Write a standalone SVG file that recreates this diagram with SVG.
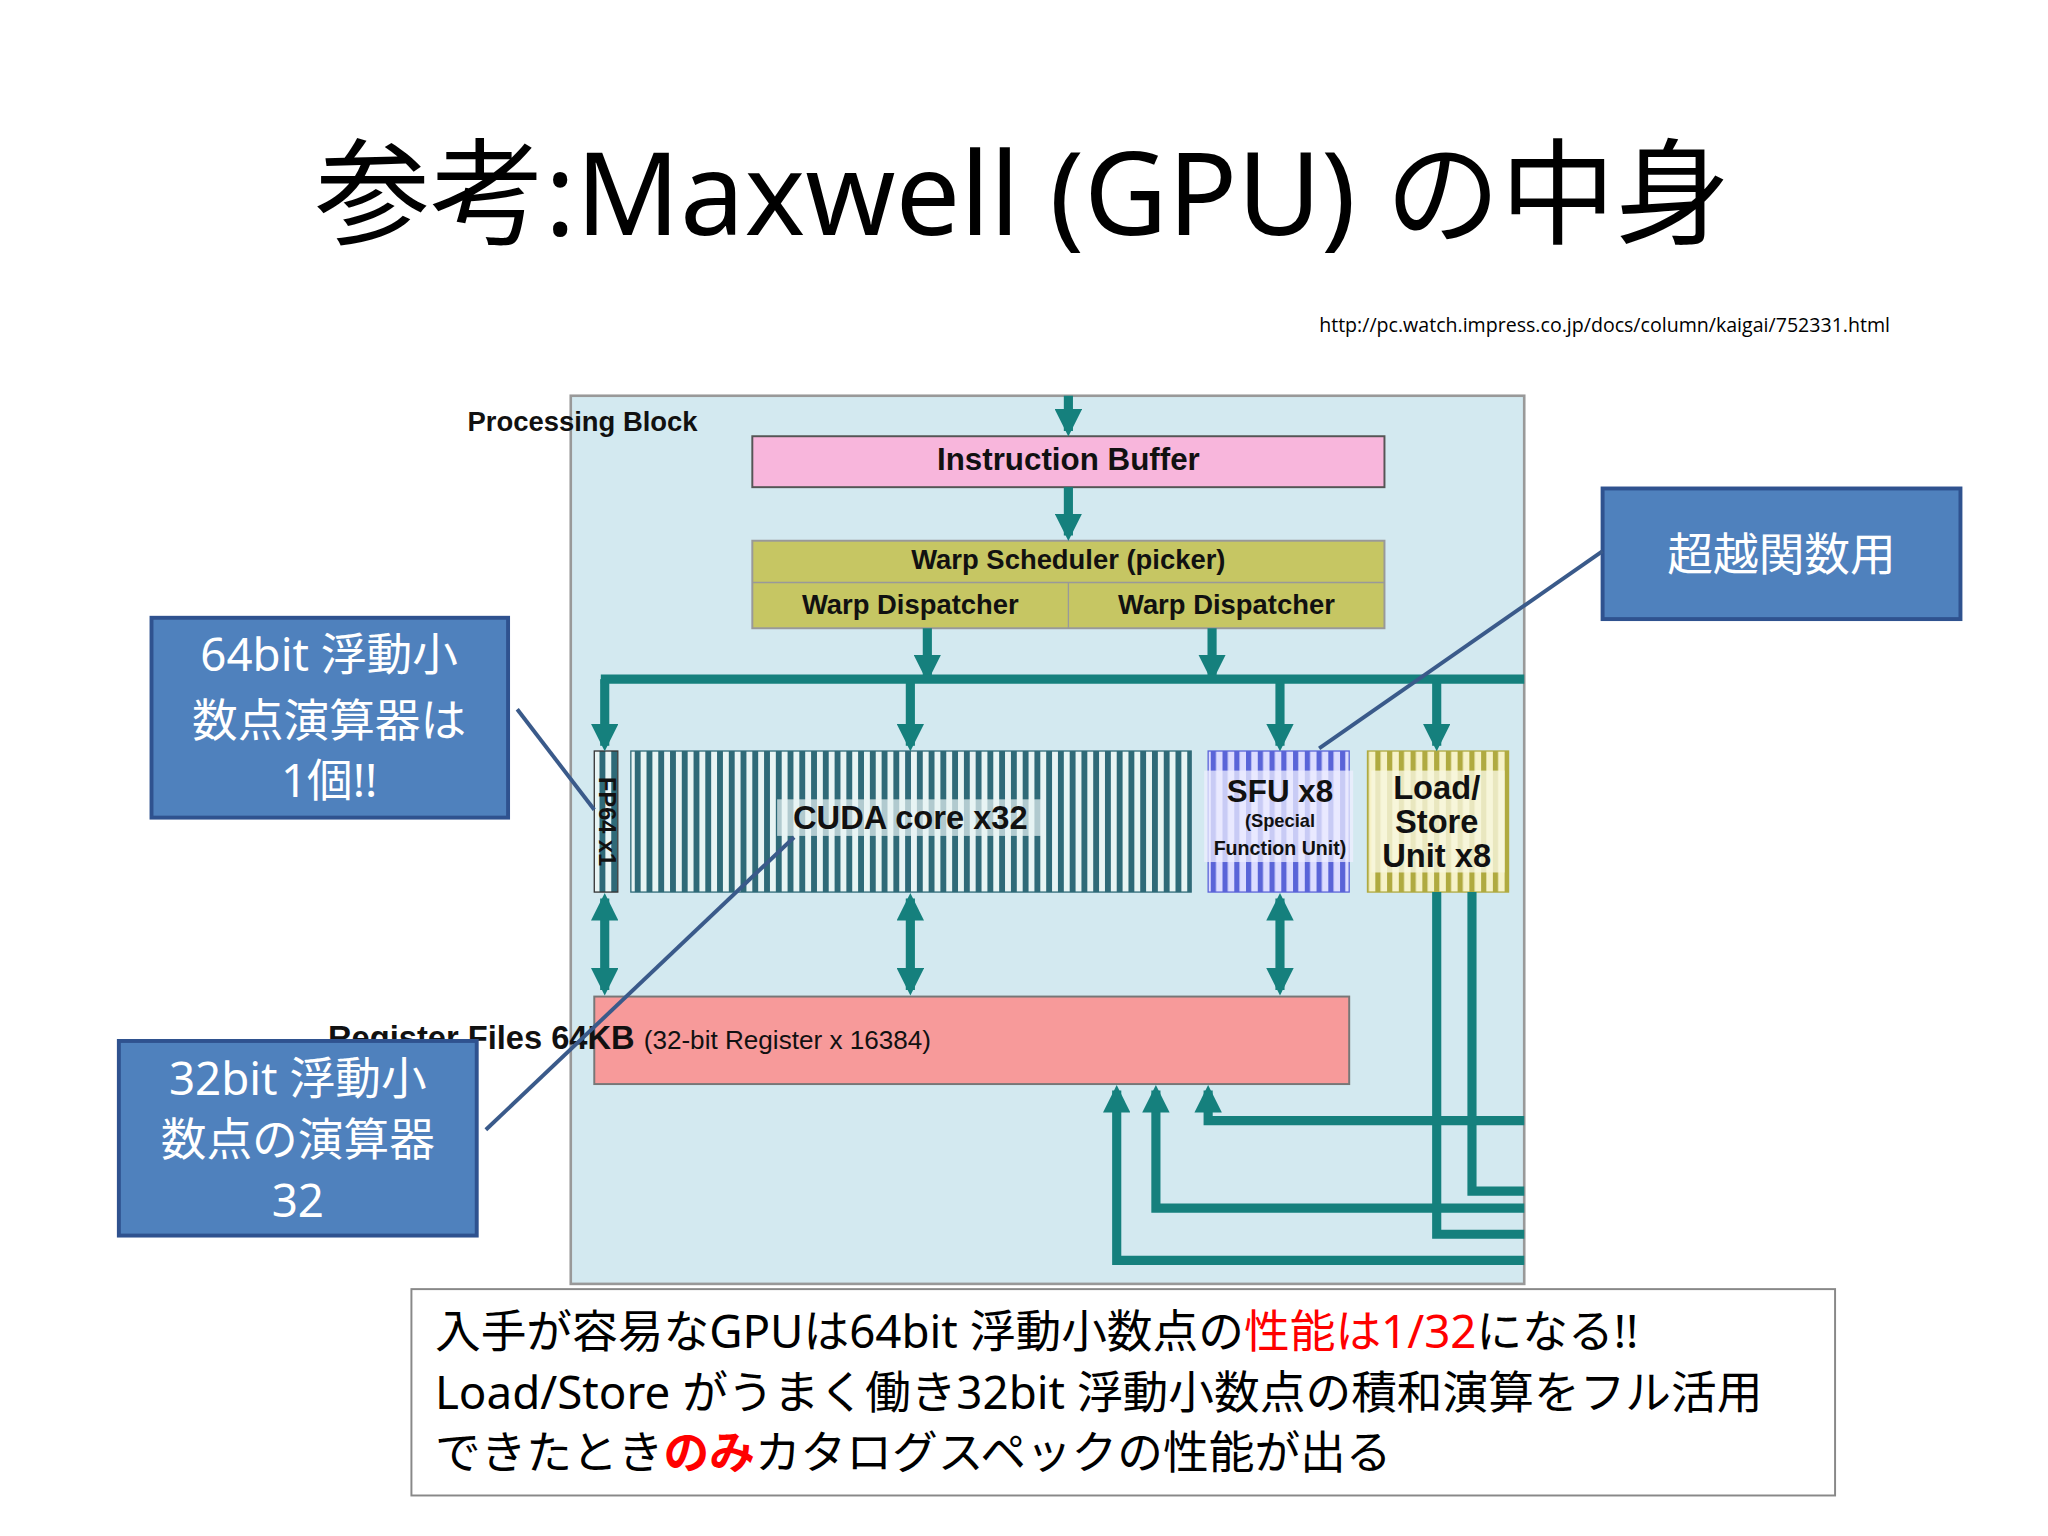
<svg xmlns="http://www.w3.org/2000/svg" width="2048" height="1536" viewBox="0 0 2048 1536">
<defs>
<style>
.d{font-family:"Liberation Sans",Arial,sans-serif;font-weight:bold;fill:#111;text-anchor:middle}
.j{font-family:"Noto Sans","Noto Sans CJK JP",sans-serif}
.cw{fill:#fff;font-size:35px;text-anchor:middle}
.bus{stroke:#15807d;stroke-width:7;fill:none}
.co{fill:#4f81bd;stroke:#2f528f;stroke-width:3}
.cl{stroke:#3a5a8a;stroke-width:3}
</style>
<marker id="a" viewBox="0 0 10 10" refX="8" refY="5" markerWidth="3" markerHeight="3" orient="auto-start-reverse"><path d="M0,0L10,5L0,10z" fill="#15807d"/></marker>
<pattern id="pc" width="9" height="10" patternUnits="userSpaceOnUse"><rect width="9" height="10" fill="#e8f4f4"/><rect width="4.5" height="10" fill="#2f6a78"/></pattern>
<pattern id="ps" width="9" height="10" patternUnits="userSpaceOnUse"><rect width="9" height="10" fill="#dcdcff"/><rect width="4" height="10" fill="#5a64d8"/></pattern>
<pattern id="pl" width="9" height="10" patternUnits="userSpaceOnUse"><rect width="9" height="10" fill="#f6f2c8"/><rect width="4" height="10" fill="#b0aa40"/></pattern>
</defs>
<rect width="2048" height="1536" fill="#fff"/>
<g transform="scale(1.3061)">
<g id="title">
<text x="783" y="180" class="j" font-size="88" text-anchor="middle" fill="#000">参考:Maxwell (GPU) の中身</text>
<text x="1010" y="254" font-family="'Open Sans',sans-serif" font-size="15" fill="#000">http://pc.watch.impress.co.jp/docs/column/kaigai/752331.html</text>
</g>
<g id="block">
<rect x="437" y="303" width="730" height="680" fill="#d3e9f0" stroke="#999" stroke-width="2"/>
<text x="446" y="330" class="d" font-size="21" text-anchor="start">Processing Block</text>
</g>
<g id="ibuf"><rect x="576" y="334" width="484" height="39" fill="#f8b6dc" stroke="#555" stroke-width="1.5"/><text x="818" y="360" class="d" font-size="24">Instruction Buffer</text></g>
<g id="warp"><rect x="576" y="414" width="484" height="67" fill="#c6c663" stroke="#999" stroke-width="1.5"/><line x1="576" y1="446" x2="1060" y2="446" stroke="#999"/><line x1="818" y1="446" x2="818" y2="481" stroke="#999"/>
<text x="818" y="436" class="d" font-size="21">Warp Scheduler (picker)</text><text x="697" y="470" class="d" font-size="21">Warp Dispatcher</text><text x="939" y="470" class="d" font-size="21">Warp Dispatcher</text></g>
<g id="fp64"><rect x="455" y="575" width="18" height="108" fill="url(#pc)" stroke="#333"/><text transform="translate(459,629) rotate(90)" class="d" font-size="18">FP64 x1</text></g>
<g id="cuda"><rect x="483" y="575" width="429" height="108" fill="url(#pc)" stroke="#2f6a78"/><rect x="595" y="612" width="205" height="28" fill="#e8f4f4" opacity="0.7"/><text x="697" y="635" class="d" font-size="25">CUDA core x32</text></g>
<g id="sfu"><rect x="925" y="575" width="108" height="108" fill="url(#ps)" stroke="#5a64d8"/><rect x="922" y="590" width="114" height="70" fill="#eeeeff" opacity="0.75"/><text x="980" y="614" class="d" font-size="24">SFU x8</text><text x="980" y="633" class="d" font-size="14">(Special</text><text x="980" y="655" class="d" font-size="15">Function Unit)</text></g>
<g id="ls"><rect x="1047" y="575" width="108" height="108" fill="url(#pl)" stroke="#b0aa40"/><rect x="1050" y="590" width="102" height="78" fill="#f8f6de" opacity="0.8"/><text x="1100" y="612" class="d" font-size="25">Load/</text><text x="1100" y="638" class="d" font-size="25">Store</text><text x="1100" y="664" class="d" font-size="25">Unit x8</text></g>
<g id="reg"><rect x="455" y="763" width="578" height="67" fill="#f79a9a" stroke="#777" stroke-width="1.5"/><text x="482" y="803" class="d" font-size="25" text-anchor="start">Register Files 64KB <tspan font-weight="normal" font-size="20">(32-bit Register x 16384)</tspan></text></g>
<g id="connectors">
<line class="bus" x1="818" y1="303" x2="818" y2="330" marker-end="url(#a)"/>
<line class="bus" x1="818" y1="373" x2="818" y2="410" marker-end="url(#a)"/>
<line class="bus" x1="710" y1="481" x2="710" y2="518" marker-end="url(#a)"/>
<line class="bus" x1="928" y1="481" x2="928" y2="518" marker-end="url(#a)"/>
<path class="bus" d="M460,520H1167"/>
<line class="bus" x1="463" y1="520" x2="463" y2="571" marker-end="url(#a)"/>
<line class="bus" x1="697" y1="520" x2="697" y2="571" marker-end="url(#a)"/>
<line class="bus" x1="980" y1="520" x2="980" y2="571" marker-end="url(#a)"/>
<line class="bus" x1="1100" y1="520" x2="1100" y2="571" marker-end="url(#a)"/>
<line class="bus" x1="463" y1="688" x2="463" y2="758" marker-start="url(#a)" marker-end="url(#a)"/>
<line class="bus" x1="697" y1="688" x2="697" y2="758" marker-start="url(#a)" marker-end="url(#a)"/>
<line class="bus" x1="980" y1="688" x2="980" y2="758" marker-start="url(#a)" marker-end="url(#a)"/>
<path class="bus" d="M1100,683V945H1167"/>
<path class="bus" d="M1127,683V912H1167"/>
<path class="bus" d="M1167,965H855V835" marker-end="url(#a)"/>
<path class="bus" d="M1167,925H885V835" marker-end="url(#a)"/>
<path class="bus" d="M1167,858H925V835" marker-end="url(#a)"/>
</g>
<g id="c1"><rect class="co" x="1227" y="374" width="274" height="100"/><text class="j cw" x="1364" y="437">超越関数用</text><line class="cl" x1="1227" y1="422" x2="1010" y2="573"/></g>
<g id="c2"><rect class="co" x="116" y="473" width="273" height="153"/><text class="j cw" x="252" y="514">64bit 浮動小</text><text class="j cw" x="252" y="564">数点演算器は</text><text class="j cw" x="252" y="610">1個!!</text><line class="cl" x1="396" y1="543" x2="455" y2="620"/></g>
<g id="c3"><rect class="co" x="91" y="797" width="274" height="149"/><text class="j cw" x="228" y="838">32bit 浮動小</text><text class="j cw" x="228" y="885">数点の演算器</text><text class="j cw" x="228" y="932">32</text><line class="cl" x1="372" y1="865" x2="608" y2="641"/></g>
<g id="note"><rect x="315" y="987" width="1090" height="158" fill="#fff" stroke="#888" stroke-width="1.5"/>
<text class="j" x="333" y="1032" font-size="35" fill="#000">入手が容易なGPUは64bit 浮動小数点の<tspan fill="#f00">性能は1/32</tspan>になる!!</text>
<text class="j" x="333" y="1079" font-size="35" fill="#000">Load/Store がうまく働き32bit 浮動小数点の積和演算をフル活用</text>
<text class="j" x="333" y="1125" font-size="35" fill="#000">できたとき<tspan fill="#f00" font-weight="bold">のみ</tspan>カタログスペックの性能が出る</text></g>
</g>
</svg>
